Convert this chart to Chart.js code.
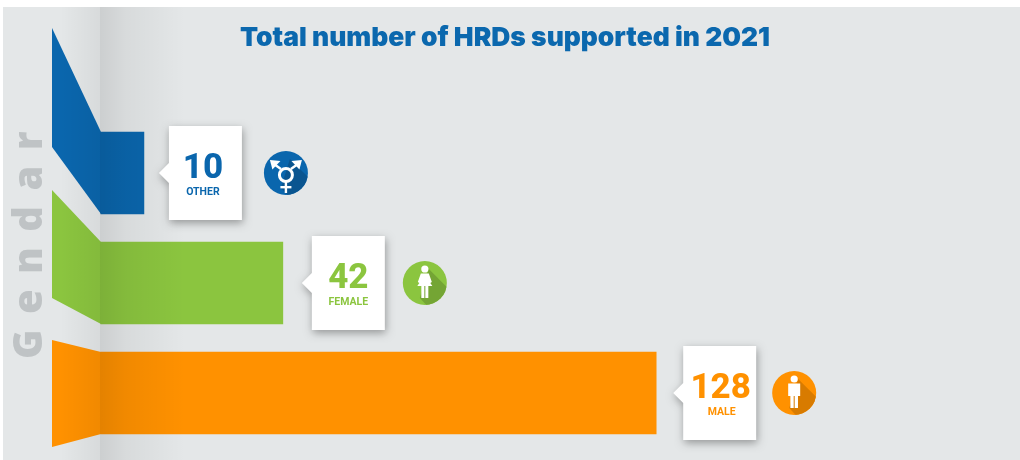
<!DOCTYPE html>
<html>
<head>
<meta charset="utf-8">
<script src="https://cdn.jsdelivr.net/npm/chart.js@4"></script>
<style>
    html, body { margin: 0; padding: 0; background: #fff; }
    canvas { display: block; }
</style>
</head>
<body>
<canvas id="canvas" width="1020" height="460"></canvas>
<script>
const categories = ['Other', 'Female', 'Male'];
const supported = [10, 42, 128];
const barColors = ['#0a66ad', '#8bc53f', '#ff9100'];
const iconShadows = ['#0a5590', '#74a534', '#d87b00'];
const chartTitle = 'Total number of HRDs supported in 2021';
const axisName = 'G e n d a r';

const FOLD_X = 100;
// how far each ribbon tail reaches above and below its bar, left of the fold
const tailRise = [104, 52, 12];
const tailDrop = [-67, -26, 13];
const cardGap = [25, 29, 27];
const iconGap = [44, 40, 38];
const numberNudge = [-2.5, 0, 1];
const captionNudge = [-2.5, 0, 2];

const panelPlugin = {
    id: 'panel',
    beforeDraw(chart) {
        const { ctx } = chart;
        ctx.save();
        ctx.fillStyle = '#e4e7e8';
        ctx.fillRect(3, 7, 1017, 453);
        ctx.restore();
    },
};

function drawTail(ctx, bar, i) {
    const top = bar.y - bar.height / 2;
    const bottom = bar.y + bar.height / 2;
    ctx.fillStyle = barColors[i];
    ctx.beginPath();
    ctx.moveTo(52, top - tailRise[i]);
    ctx.lineTo(FOLD_X + 1, top);
    ctx.lineTo(FOLD_X + 1, bottom);
    ctx.lineTo(52, bottom + tailDrop[i]);
    ctx.closePath();
    ctx.fill();
}

function drawFoldShade(ctx) {
    const left = ctx.createLinearGradient(60, 0, FOLD_X, 0);
    left.addColorStop(0, 'rgba(0,0,0,0)');
    left.addColorStop(1, 'rgba(0,0,0,0.055)');
    ctx.fillStyle = left;
    ctx.fillRect(60, 7, FOLD_X - 60, 453);

    const right = ctx.createLinearGradient(FOLD_X, 0, 185, 0);
    right.addColorStop(0, 'rgba(0,0,0,0.105)');
    right.addColorStop(0.3, 'rgba(0,0,0,0.055)');
    right.addColorStop(1, 'rgba(0,0,0,0)');
    ctx.fillStyle = right;
    ctx.fillRect(FOLD_X, 7, 85, 453);
}

function drawCard(ctx, x, y, i) {
    const w = 73, h = 94;
    ctx.save();
    ctx.shadowColor = 'rgba(0,0,0,0.35)';
    ctx.shadowBlur = 8;
    ctx.shadowOffsetX = 1;
    ctx.shadowOffsetY = 3;
    ctx.fillStyle = '#fff';
    ctx.beginPath();
    ctx.moveTo(x, y - h / 2);
    ctx.lineTo(x + w, y - h / 2);
    ctx.lineTo(x + w, y + h / 2);
    ctx.lineTo(x, y + h / 2);
    ctx.lineTo(x, y + 10);
    ctx.lineTo(x - 10, y);
    ctx.lineTo(x, y - 10);
    ctx.closePath();
    ctx.fill();
    ctx.restore();

    ctx.fillStyle = barColors[i];
    ctx.textAlign = 'center';
    ctx.textBaseline = 'alphabetic';
    ctx.font = '800 35px Roboto';
    ctx.fillText(String(supported[i]), x + w / 2 + numberNudge[i], y + 5);
    ctx.font = '700 10.5px Roboto';
    ctx.fillText(categories[i].toUpperCase(), x + w / 2 + captionNudge[i], y + 22);
}

function limbs(ctx, points) {
    ctx.beginPath();
    points.forEach(([px, py], n) => (n ? ctx.lineTo(px, py) : ctx.moveTo(px, py)));
    ctx.closePath();
    ctx.fill();
}

function arrowHead(ctx, cx, cy, dir) {
    // dir is -1 for the arrow pointing up-left, 1 for up-right
    ctx.lineWidth = 2.4;
    ctx.beginPath();
    ctx.moveTo(cx + dir * 5, cy - 4);
    ctx.lineTo(cx + dir * 12, cy - 9);
    ctx.stroke();
    limbs(ctx, [
        [cx + dir * 16, cy - 13],
        [cx + dir * 5.5, cy - 12],
        [cx + dir * 13.5, cy - 3.5],
    ]);
}

function drawGlyph(ctx, cx, cy, i) {
    ctx.fillStyle = '#fff';
    ctx.strokeStyle = '#fff';
    if (i === 0) {
        ctx.lineWidth = 3;
        ctx.beginPath();
        ctx.arc(cx, cy + 2, 6.5, 0, Math.PI * 2);
        ctx.stroke();
        arrowHead(ctx, cx, cy, -1);
        arrowHead(ctx, cx, cy, 1);
        ctx.fillRect(cx - 1.2, cy + 9, 2.4, 11);
        ctx.fillRect(cx - 5.5, cy + 13, 11, 2.4);
    } else if (i === 1) {
        ctx.beginPath();
        ctx.arc(cx, cy - 14, 3.6, 0, Math.PI * 2);
        ctx.fill();
        limbs(ctx, [
            [cx - 4, cy - 9.5], [cx + 4, cy - 9.5], [cx + 7, cy - 1],
            [cx + 5.5, cy], [cx + 3.5, cy - 3], [cx + 7.5, cy + 3],
            [cx - 7.5, cy + 3], [cx - 3.5, cy - 3], [cx - 5.5, cy], [cx - 7, cy - 1],
        ]);
        ctx.fillRect(cx - 3.5, cy + 3, 3, 12);
        ctx.fillRect(cx + 0.5, cy + 3, 3, 12);
    } else {
        ctx.beginPath();
        ctx.arc(cx, cy - 14, 3.6, 0, Math.PI * 2);
        ctx.fill();
        limbs(ctx, [
            [cx - 6, cy - 9.5], [cx + 6, cy - 9.5], [cx + 6, cy + 3], [cx + 3.8, cy + 3],
            [cx + 3.8, cy + 15], [cx + 0.5, cy + 15], [cx + 0.5, cy + 3], [cx - 0.5, cy + 3],
            [cx - 0.5, cy + 15], [cx - 3.8, cy + 15], [cx - 3.8, cy + 3], [cx - 6, cy + 3],
        ]);
    }
}

function drawIcon(ctx, cx, cy, i) {
    const r = 22;
    ctx.save();
    ctx.beginPath();
    ctx.arc(cx, cy, r, 0, Math.PI * 2);
    ctx.fillStyle = barColors[i];
    ctx.fill();
    ctx.clip();
    // long shadow thrown towards the lower right of the badge
    ctx.fillStyle = iconShadows[i];
    ctx.beginPath();
    ctx.moveTo(cx + 4, cy - 14);
    ctx.lineTo(cx + 40, cy + 22);
    ctx.lineTo(cx + 20, cy + 42);
    ctx.lineTo(cx - 5, cy + 15);
    ctx.closePath();
    ctx.fill();
    ctx.restore();
    drawGlyph(ctx, cx, cy, i);
}

const decorPlugin = {
    id: 'decor',
    afterDatasetsDraw(chart) {
        const { ctx } = chart;
        const bars = chart.getDatasetMeta(0).data;
        ctx.save();
        bars.forEach((bar, i) => drawTail(ctx, bar, i));
        drawFoldShade(ctx);

        // rotated axis name down the left edge
        ctx.save();
        ctx.translate(42, 244);
        ctx.rotate(-Math.PI / 2);
        ctx.letterSpacing = '2.5px';
        ctx.fillStyle = '#bfc3c5';
        ctx.font = '800 40px "Open Sans"';
        ctx.textAlign = 'center';
        ctx.textBaseline = 'alphabetic';
        ctx.fillText(axisName, 0, 0);
        ctx.restore();

        bars.forEach((bar, i) => {
            const cardX = bar.x + cardGap[i];
            drawCard(ctx, cardX, bar.y, i);
            drawIcon(ctx, cardX + 73 + iconGap[i], bar.y, i);
        });
        ctx.restore();
    },
};

new Chart(document.getElementById('canvas'), {
    type: 'bar',
    data: {
        labels: categories,
        datasets: [
            {
                data: supported,
                backgroundColor: barColors,
                borderWidth: 0,
                barThickness: 82,
            },
        ],
    },
    options: {
        indexAxis: 'y',
        responsive: false,
        animation: false,
        layout: { padding: { left: 0, right: 10, top: 0, bottom: 12 } },
        plugins: {
            legend: { display: false },
            tooltip: { enabled: false },
            title: {
                display: true,
                text: chartTitle,
                color: '#0b68ae',
                font: { family: 'Inter', size: 26.4, weight: '900', lineHeight: 1.2 },
                padding: { top: 22, bottom: 64.3 },
            },
        },
        scales: {
            x: { display: false, min: 0, max: 209.5 },
            y: {
                ticks: { display: false },
                grid: { display: false },
                border: { display: false },
                afterFit(scale) {
                    scale.width = 100.5;
                },
            },
        },
    },
    plugins: [panelPlugin, decorPlugin],
});
</script>
</body>
</html>
